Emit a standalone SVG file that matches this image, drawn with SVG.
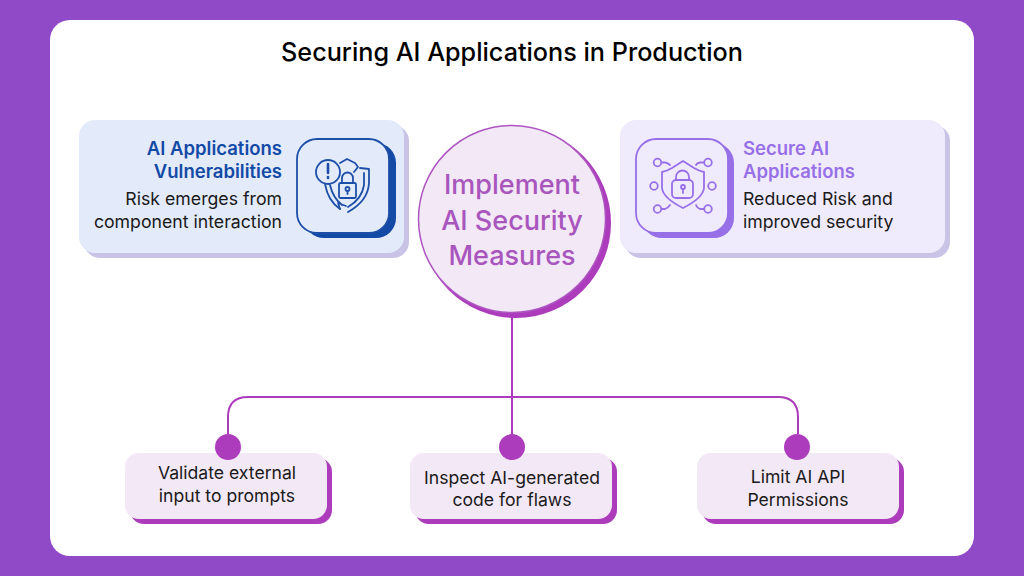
<svg xmlns="http://www.w3.org/2000/svg" width="1024" height="576" viewBox="0 0 1024 576">
<style>
text{font-family:"Inter","Liberation Sans",sans-serif}
.h{font-size:18.500px;font-weight:600}
.b{font-size:17.700px;fill:#1a1a1a}
.m{font-size:27px;font-weight:500;fill:#a855bd;text-anchor:middle}
.c{font-size:17.600px;fill:#1a1a1a;text-anchor:middle}
.conn{fill:none;stroke:#ad3cbd;stroke-width:2}
.d{fill:#ad3cbd}
.card{fill:#f3e8f6}
.s{fill:#ad3cbd}
.ib{fill:none;stroke:#1e4fa8;stroke-width:1.800;stroke-linecap:round;stroke-linejoin:round}
.ip{fill:none;stroke:#9770e8;stroke-width:1.800;stroke-linecap:round;stroke-linejoin:round}
</style>
<rect width="1024" height="576" fill="#9049c7"/>
<rect x="50" y="20" width="924" height="536" rx="20" fill="#fff"/>
<text id="title" x="512" y="61" text-anchor="middle" font-size="25.200" font-weight="500" fill="#000">Securing AI Applications in Production</text>
<g id="connectors">
<path class="conn" d="M512 316V447M228 434V417Q228 397 248 397H778Q798 397 798 417V434"/>
</g>
<g id="vuln">
<rect x="84" y="125" width="325" height="133" rx="16" fill="#c9c3e6"/>
<rect x="79" y="120" width="325" height="133" rx="16" fill="#e3ebfb"/>
<rect x="304" y="143" width="92" height="95" rx="20" fill="#134aa6"/>
<rect x="297" y="139" width="92" height="94" rx="20" fill="#e3ebfb" stroke="#1e4fa8" stroke-width="1.800"/>
<text class="h" x="282" y="155" text-anchor="end" fill="#134aa6">AI Applications</text>
<text class="h" x="282" y="178" text-anchor="end" fill="#134aa6">Vulnerabilities</text>
<text class="b" x="282" y="205" text-anchor="end">Risk emerges from</text>
<text class="b" x="282" y="228" text-anchor="end">component interaction</text>
<g class="ib">
<circle cx="328" cy="172" r="12"/>
<path d="M328 164V173M328 177V178" stroke-width="2.600"/>
<path d="M340 163L347 159L355 163L358 167L354 172M360 168L369 169V183Q368 201 348 212M325 184Q328 201 340 209"/>
<path d="M330 185Q333 198 342 205M364 173V185Q362 199 348 207M340 209L338 203L346 206"/>
<rect x="339" y="183" width="17" height="15" rx="1.500"/>
<path d="M342 183V178A5.500 5.500 0 0 1 353 178V183"/>
<circle cx="347.500" cy="189" r="2"/>
<path d="M347.500 191V194"/>
</g>
</g>
<g id="center">
<circle cx="516" cy="223" r="95" class="s"/>
<circle cx="512" cy="219" r="93.500" fill="#f3e8f6" stroke="#ad55c0" stroke-width="1.500"/>
<text class="m" x="512" y="194">Implement</text>
<text class="m" x="512" y="230">AI Security</text>
<text class="m" x="512" y="265">Measures</text>
</g>
<g id="secure">
<rect x="625" y="125" width="325" height="133" rx="16" fill="#c9c3e6"/>
<rect x="620" y="120" width="325" height="133" rx="16" fill="#f0ebfc"/>
<rect x="642" y="143" width="92" height="95" rx="20" fill="#9770e8"/>
<rect x="636" y="139" width="92" height="94" rx="20" fill="#f0ebfc" stroke="#9770e8" stroke-width="1.800"/>
<text class="h" x="743" y="155" fill="#9770e8">Secure AI</text>
<text class="h" x="743" y="178" fill="#9770e8">Applications</text>
<text class="b" x="743" y="205">Reduced Risk and</text>
<text class="b" x="743" y="228">improved security</text>
<g class="ip">
<path d="M683 161L694 168Q699 171 704 172V188Q703 198 683 208Q663 198 662 188V172Q667 171 672 168Z"/>
<rect x="672" y="180" width="21" height="18" rx="4"/>
<path d="M676 180V177A6.500 6.500 0 0 1 689 177V180"/>
<circle cx="683" cy="187" r="2"/><path d="M683 189V193"/>
<circle cx="657.500" cy="162.500" r="3.800"/><path d="M661.500 162.500H665Q668 163 670 165"/>
<circle cx="708" cy="162.500" r="3.800"/><path d="M704 162.500H700Q697 163 696 165"/>
<circle cx="654" cy="186" r="3.800"/><circle cx="712" cy="186" r="3.800"/>
<circle cx="657.500" cy="209" r="3.800"/><path d="M661.500 209H665Q668 208 670 205"/>
<circle cx="708" cy="209" r="3.800"/><path d="M704 209H700Q697 208 696 205"/>
</g>
</g>
<g id="validate">
<rect x="130" y="458" width="202" height="66" rx="14" class="s"/>
<rect x="125" y="453" width="202" height="66" rx="14" class="card"/>
<circle cx="228" cy="447" r="13" class="d"/>
<text class="c" x="227" y="479">Validate external</text>
<text class="c" x="227" y="502">input to prompts</text>
</g>
<g id="inspect">
<rect x="415" y="458" width="202" height="66" rx="14" class="s"/>
<rect x="410" y="453" width="202" height="66" rx="14" class="card"/>
<circle cx="512" cy="447" r="13" class="d"/>
<text class="c" x="512" y="484">Inspect AI-generated</text>
<text class="c" x="512" y="506">code for flaws</text>
</g>
<g id="limit">
<rect x="702" y="458" width="202" height="66" rx="14" class="s"/>
<rect x="697" y="453" width="202" height="66" rx="14" class="card"/>
<circle cx="797" cy="447" r="13" class="d"/>
<text class="c" x="798" y="483">Limit AI API</text>
<text class="c" x="798" y="506">Permissions</text>
</g>
</svg>
